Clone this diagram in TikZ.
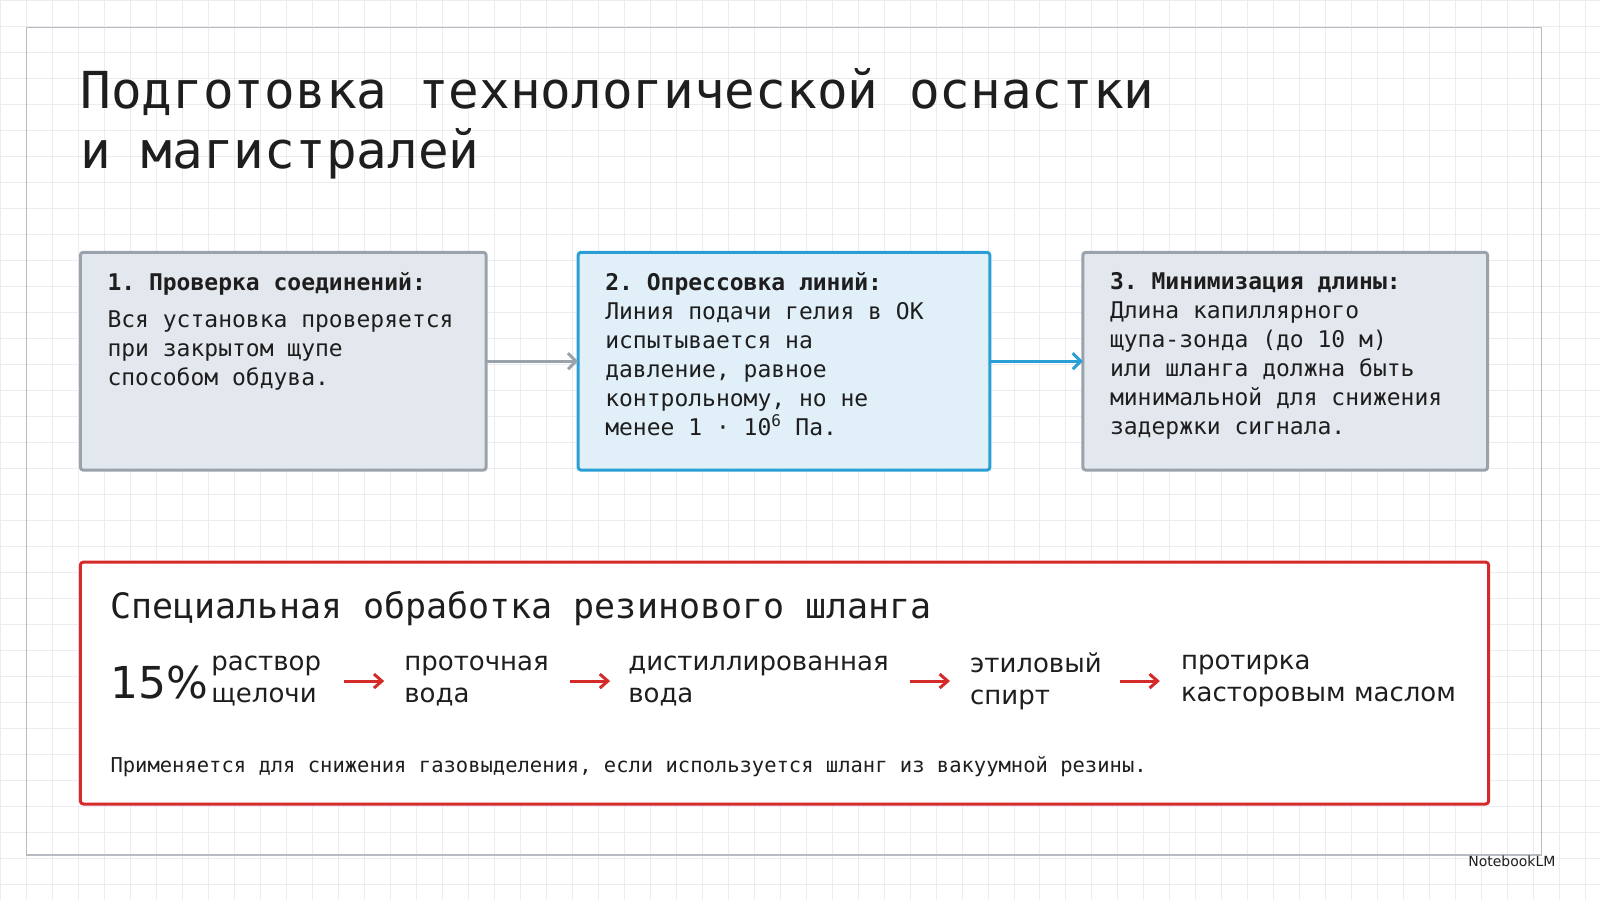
\documentclass[tikz,border=0pt]{standalone}
\usepackage{fontspec}
\setmainfont{DejaVu Sans}
\setmonofont{DejaVu Sans Mono}
\usetikzlibrary{arrows.meta}
\definecolor{gridc}{HTML}{ECECF0}
\definecolor{frame}{HTML}{B8BCC2}
\definecolor{boxg}{HTML}{9AA3AC}
\definecolor{fillg}{HTML}{E3E8EE}
\definecolor{blu}{HTML}{2A9FD6}
\definecolor{fillb}{HTML}{E1EFF8}
\definecolor{redc}{HTML}{D42A2A}
\definecolor{txt}{HTML}{1E1E1E}
\begin{document}
\begin{tikzpicture}[x=1pt,y=-1pt,
  card/.style={draw=boxg,line width=3pt,fill=fillg,rounded corners=3pt},
  body/.style={anchor=north west,align=left,font=\ttfamily\fontsize{23}{29}\selectfont,text=txt,inner sep=0pt},
  seq/.style={anchor=west,align=left,font=\fontsize{26}{32}\selectfont,text=txt,inner sep=0pt},
  rarr/.style={-{Straight Barb[length=8pt,width=14pt]},redc,line width=3pt}]
\fill[white] (0,0) rectangle (1600,900);
\foreach \i in {0,26,...,1599} {\draw[gridc,line width=0.8pt] (\i,0) -- (\i,900);}
\foreach \j in {0,26,...,899} {\draw[gridc,line width=0.8pt] (0,\j) -- (1600,\j);}
\draw[frame,line width=1.5pt] (26,27) rectangle (1542,855);
\node[anchor=north west,align=left,inner sep=0pt,font=\ttfamily\fontsize{51}{60}\selectfont,text=txt] (title) at (80,68) {Подготовка технологической оснастки\\и магистралей};
% cards
\draw[card] (80,252) rectangle (486,470);
\coordinate (c1r) at (486,361);
\node[body] (t1) at (107,272) {\bfseries 1. Проверка соединений:\\[8pt]Вся установка проверяется\\при закрытом щупе\\способом обдува.};
\draw[card,draw=blu,fill=fillb] (578,252) rectangle (990,470);
\coordinate (c2l) at (578,361); \coordinate (c2r) at (990,361);
\node[body] (t2) at (605,272) {\bfseries 2. Опрессовка линий:\\Линия подачи гелия в ОК\\испытывается на\\давление, равное\\контрольному, но не\\менее 1 · 10\textsuperscript{6} Па.};
\draw[card] (1083,252) rectangle (1488,470);
\coordinate (c3l) at (1083,361);
\node[body] (t3) at (1110,272) {\bfseries 3. Минимизация длины:\\Длина капиллярного\\щупа-зонда (до 10 м)\\или шланга должна быть\\минимальной для снижения\\задержки сигнала.};
\draw[-{Straight Barb[length=8pt,width=16pt]},boxg,line width=3pt] (c1r) -- (c2l);
\draw[-{Straight Barb[length=8pt,width=16pt]},blu,line width=3pt] (c2r) -- (c3l);
% red box
\draw[redc,line width=3pt,fill=white,rounded corners=3pt] (80,562) rectangle (1489,804);
\node[anchor=west,inner sep=0pt,font=\ttfamily\fontsize{35}{40}\selectfont,text=txt] (rt) at (110,608) {Специальная обработка резинового шланга};
\node[anchor=west,inner sep=0pt,font=\fontsize{44}{50}\selectfont,text=txt] (pc) at (110,682) {15\%};
\node[seq] (s1) at (211,681) {раствор\\щелочи};
\node[seq] (s2) at (404,681) {проточная\\вода};
\node[seq] (s3) at (628,681) {дистиллированная\\вода};
\node[seq] (s4) at (970,681) {этиловый\\спирт};
\node[seq] (s5) at (1181,681) {протирка\\касторовым маслом};
\draw[rarr] (344,681) -- (384,681);
\draw[rarr] (570,681) -- (610,681);
\draw[rarr] (910,681) -- (950,681);
\draw[rarr] (1120,681) -- (1160,681);
\node[anchor=west,inner sep=0pt,font=\ttfamily\fontsize{20.5}{24}\selectfont,text=txt] (fn) at (110,767) {Применяется для снижения газовыделения, если используется шланг из вакуумной резины.};
\node[anchor=east,inner sep=0pt,font=\fontsize{14}{16}\selectfont,text=txt] (nb) at (1556,861) {NotebookLM};
\useasboundingbox (0,0) rectangle (1600,900);
\end{tikzpicture}
\end{document}
